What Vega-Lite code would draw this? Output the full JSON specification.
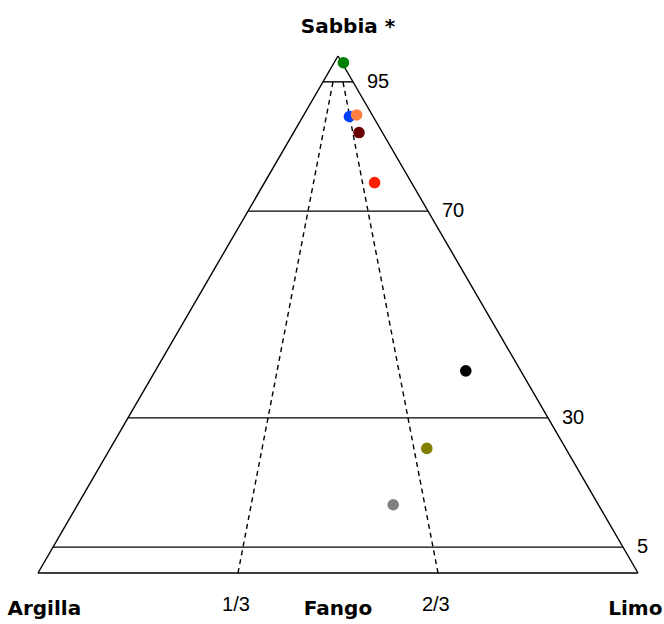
{
  "$schema": "https://vega.github.io/schema/vega-lite/v6.json",
  "width": 664,
  "height": 624,
  "padding": 0,
  "autosize": {"type": "none"},
  "background": "white",
  "config": {"view": {"stroke": null}},
  "datasets": {
    "solid": [
      {"x": 0, "y": 0, "x2": 1, "y2": 0},
      {"x": 0, "y": 0, "x2": 0.5, "y2": 1},
      {"x": 1, "y": 0, "x2": 0.5, "y2": 1},
      {"x": 0.025, "y": 0.05, "x2": 0.975, "y2": 0.05},
      {"x": 0.15, "y": 0.3, "x2": 0.85, "y2": 0.3},
      {"x": 0.35, "y": 0.7, "x2": 0.65, "y2": 0.7},
      {"x": 0.475, "y": 0.95, "x2": 0.525, "y2": 0.95}
    ],
    "dashed": [
      {"x": 0.33333, "y": 0, "x2": 0.49167, "y2": 0.95},
      {"x": 0.66667, "y": 0, "x2": 0.50833, "y2": 0.95}
    ],
    "levels": [
      {"label": "95", "x": 0.525, "y": 0.95},
      {"label": "70", "x": 0.65, "y": 0.7},
      {"label": "30", "x": 0.85, "y": 0.3},
      {"label": "5", "x": 0.975, "y": 0.05}
    ],
    "fractions": [
      {"label": "1/3", "x": 0.33, "y": -0.0735},
      {"label": "2/3", "x": 0.663, "y": -0.0735}
    ],
    "titles": [
      {"label": "Argilla", "x": 0.0105, "y": -0.0812},
      {"label": "Fango", "x": 0.5, "y": -0.0812},
      {"label": "Limo", "x": 0.9955, "y": -0.0812},
      {"label": "Sabbia *", "x": 0.5167, "y": 1.0445}
    ],
    "samples": [
      {"campione": "C1", "x": 0.509, "sabbia": 0.987},
      {"campione": "C2", "x": 0.519, "sabbia": 0.883},
      {"campione": "C3", "x": 0.531, "sabbia": 0.886},
      {"campione": "C4", "x": 0.535, "sabbia": 0.852},
      {"campione": "C5", "x": 0.561, "sabbia": 0.755},
      {"campione": "C6", "x": 0.713, "sabbia": 0.391},
      {"campione": "C7", "x": 0.648, "sabbia": 0.241},
      {"campione": "C8", "x": 0.592, "sabbia": 0.132}
    ]
  },
  "layer": [
    {
      "data": {"name": "solid"},
      "mark": {"type": "rule", "color": "black", "strokeWidth": 1.4},
      "encoding": {
        "x": {"field": "x", "type": "quantitative", "scale": {"domain": [-0.06333, 1.04333], "nice": false, "zero": false}, "axis": null},
        "y": {"field": "y", "type": "quantitative", "scale": {"domain": [-0.09865, 1.10832], "nice": false, "zero": false}, "axis": null},
        "x2": {"field": "x2"},
        "y2": {"field": "y2"}
      }
    },
    {
      "data": {"name": "dashed"},
      "mark": {"type": "rule", "color": "black", "strokeWidth": 1.4, "strokeDash": [5, 4]},
      "encoding": {
        "x": {"field": "x", "type": "quantitative"},
        "y": {"field": "y", "type": "quantitative"},
        "x2": {"field": "x2"},
        "y2": {"field": "y2"}
      }
    },
    {
      "data": {"name": "levels"},
      "mark": {"type": "text", "align": "left", "baseline": "middle", "dx": 14, "font": "Liberation Sans", "fontSize": 20, "color": "black"},
      "encoding": {
        "x": {"field": "x", "type": "quantitative"},
        "y": {"field": "y", "type": "quantitative"},
        "text": {"field": "label"}
      }
    },
    {
      "data": {"name": "fractions"},
      "mark": {"type": "text", "align": "center", "baseline": "alphabetic", "font": "Liberation Sans", "fontSize": 20, "color": "black"},
      "encoding": {
        "x": {"field": "x", "type": "quantitative"},
        "y": {"field": "y", "type": "quantitative"},
        "text": {"field": "label"}
      }
    },
    {
      "data": {"name": "titles"},
      "mark": {"type": "text", "align": "center", "baseline": "alphabetic", "font": "DejaVu Sans", "fontWeight": "bold", "fontSize": 20, "color": "black"},
      "encoding": {
        "x": {"field": "x", "type": "quantitative"},
        "y": {"field": "y", "type": "quantitative"},
        "text": {"field": "label"}
      }
    },
    {
      "data": {"name": "samples"},
      "mark": {"type": "point", "shape": "circle", "filled": true, "opacity": 1, "size": 135},
      "encoding": {
        "x": {"field": "x", "type": "quantitative"},
        "y": {"field": "sabbia", "type": "quantitative"},
        "color": {
          "field": "campione",
          "type": "nominal",
          "scale": {
            "domain": ["C1", "C2", "C3", "C4", "C5", "C6", "C7", "C8"],
            "range": ["#007f00", "#0040ff", "#ff8040", "#6b0000", "#ff2000", "#000000", "#808000", "#808080"]
          },
          "legend": null
        }
      }
    }
  ]
}
